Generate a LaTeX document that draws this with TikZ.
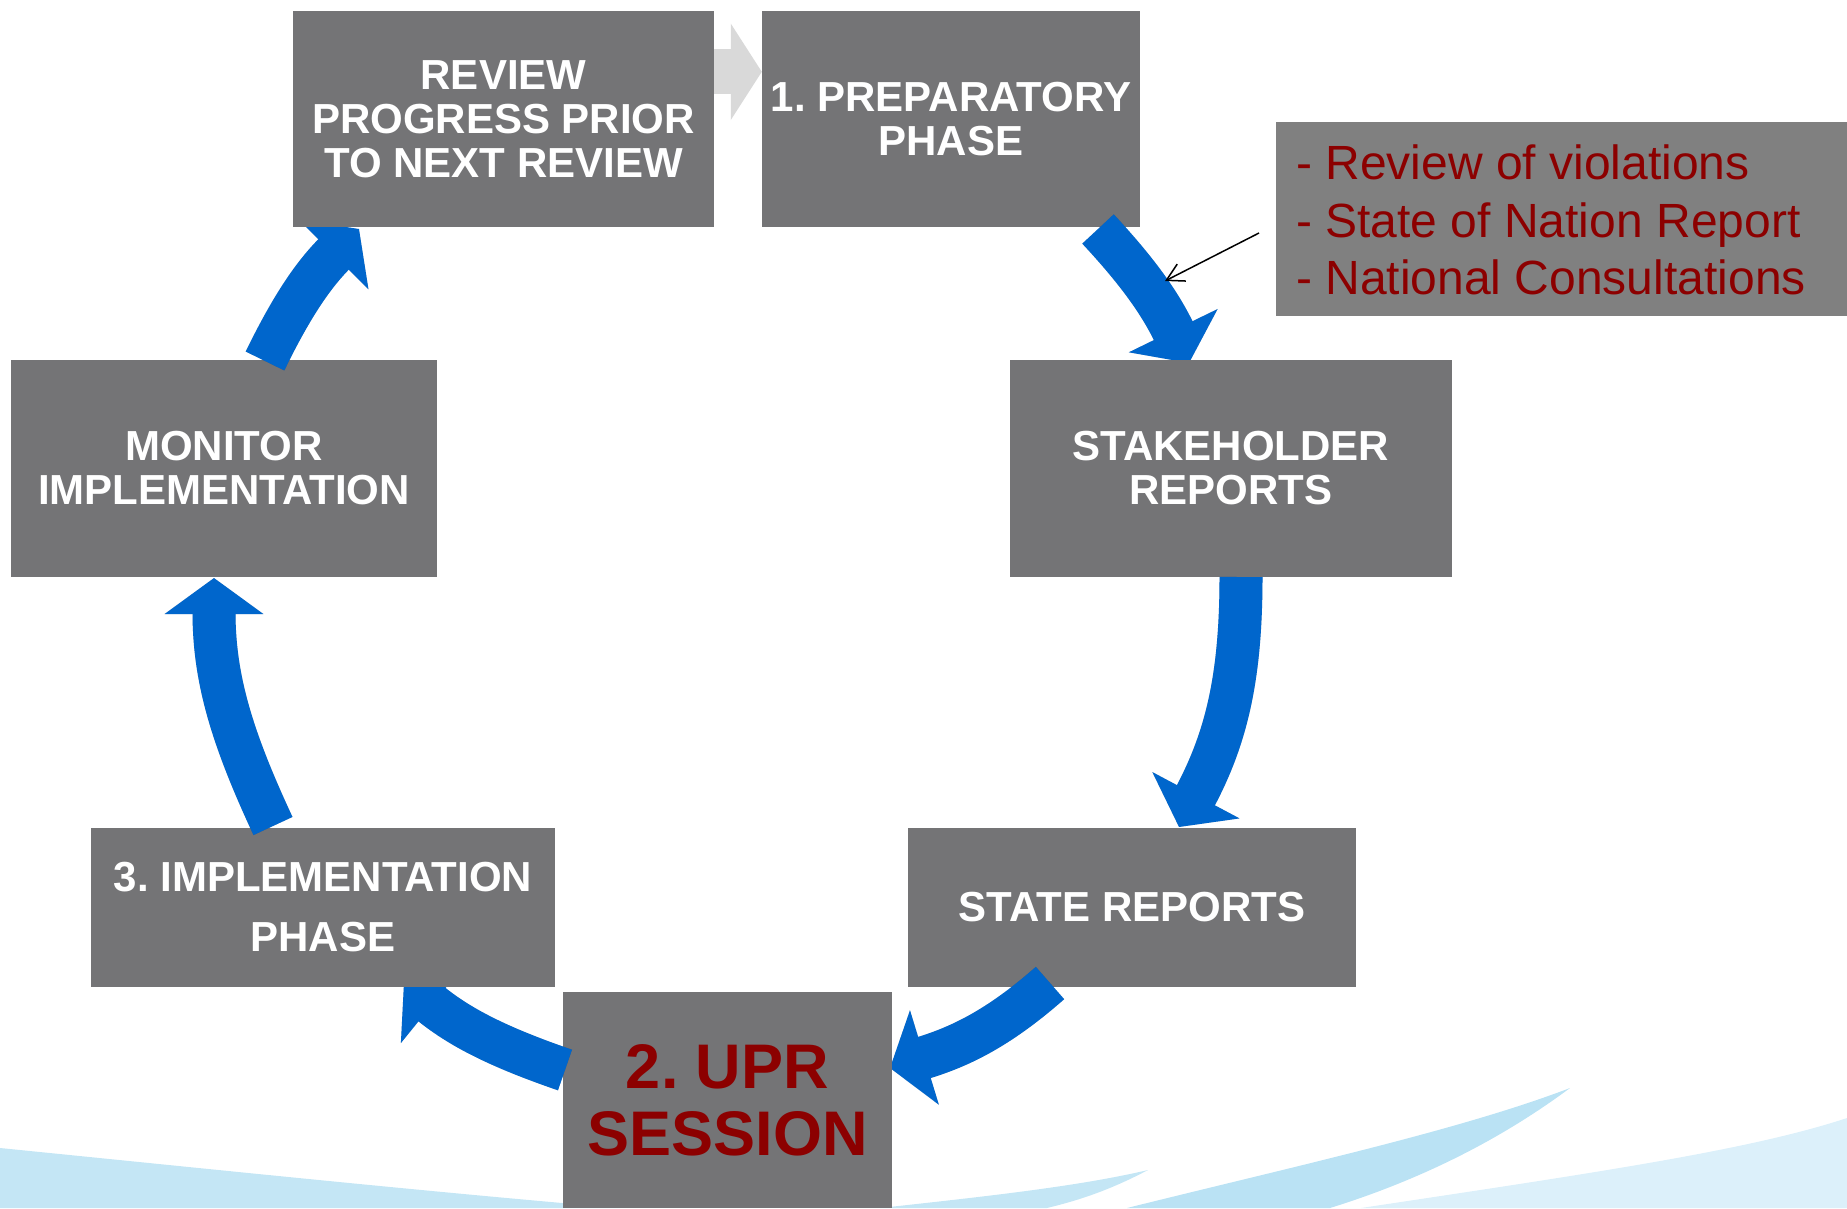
\documentclass[tikz,border=0pt]{standalone}
\usepackage{fontspec}
\setmainfont{Liberation Sans}
\frenchspacing
\usetikzlibrary{arrows.meta,calc}
\definecolor{boxgray}{RGB}{116,116,118}
\definecolor{infogray}{RGB}{128,128,128}
\definecolor{cycleblue}{RGB}{0,102,204}
\definecolor{upred}{RGB}{140,0,0}
\definecolor{chevgray}{RGB}{217,217,217}
\definecolor{waveA}{RGB}{196,230,245}
\definecolor{waveB}{RGB}{186,226,244}
\definecolor{waveC}{RGB}{220,240,250}
\tikzset{
  stagebox/.style={fill=boxgray, inner sep=0pt, text=white, align=center,
    font=\fontsize{42pt}{44pt}\selectfont\bfseries},
  cyclearrow/.style={draw=cycleblue, line width=43pt, line cap=butt,
    -{Triangle[width=97pt,length=36pt]}},
  arrowshadow/.style={draw=black, line width=43pt, line cap=butt,
    -{Triangle[width=97pt,length=36pt]}},
  infotext/.style={anchor=base west, inner sep=0pt, text=upred,
    font=\fontsize{48pt}{58pt}\selectfont},
}
% shadowed cycle arrow: #1 = to-options, #2 start, #3 end
\newcommand{\cyclearrowdraw}[3]{%
  \begin{scope}[transparency group, opacity=0.18]
    \draw[arrowshadow, shift={(3,4)}] (#2) to[#1] (#3);
  \end{scope}
  \draw[cyclearrow] (#2) to[#1] (#3);}
\begin{document}
\begin{tikzpicture}[x=1pt,y=-1pt]
\useasboundingbox (0,0) rectangle (1847,1208);
% background waves
\fill[waveA] (0,1148) .. controls (200,1168) and (430,1192) .. (620,1208) -- (0,1208) -- cycle;
\fill[waveC] (1361,1208) .. controls (1600,1172) and (1750,1150) .. (1847,1118) -- (1847,1208) -- cycle;
\fill[waveA] (880,1208) .. controls (990,1196) and (1080,1186) .. (1148,1170) .. controls (1110,1190) and (1080,1200) .. (1047,1208) -- cycle;
\fill[waveB] (1127,1208) .. controls (1300,1165) and (1460,1130) .. (1570,1088) .. controls (1500,1140) and (1420,1180) .. (1330,1208) -- cycle;

% arrow endpoints
\coordinate (a1s) at (1098,229); \coordinate (a1e) at (1189,363);
\coordinate (a2s) at (1241,577); \coordinate (a2e) at (1179,827);
\coordinate (a3s) at (1050,983); \coordinate (a3e) at (890,1068);
\coordinate (a4s) at (565,1070); \coordinate (a4e) at (404,982);
\coordinate (a5s) at (273,826); \coordinate (a5e) at (214,578);
\coordinate (a6s) at (265,361); \coordinate (a6e) at (359,229);

\node[stagebox, minimum width=378pt, minimum height=216pt] (prep) at (951,119) {1. PREPARATORY\\PHASE};
\cyclearrowdraw{out=-47,in=116}{a1s}{a1e}
\node[stagebox, minimum width=442pt, minimum height=217pt] (stake) at (1231,468.5) {STAKEHOLDER\\REPORTS};
\cyclearrowdraw{out=-90,in=62}{a2s}{a2e}
\node[stagebox, minimum width=448pt, minimum height=159pt] (state) at (1132,907.5) {STATE REPORTS};
\cyclearrowdraw{out=-138.6,in=17}{a3s}{a3e}
\node[stagebox, minimum width=329pt, minimum height=216pt, text=upred,
  font=\fontsize{63pt}{67pt}\selectfont\bfseries] (upr) at (727.5,1100) {2. UPR\\SESSION};
\cyclearrowdraw{out=161,in=-39}{a4s}{a4e}
\node[stagebox, minimum width=464pt, minimum height=159pt,
  font=\fontsize{42pt}{60pt}\selectfont\bfseries] (impl) at (323,907.5) {3. IMPLEMENTATION\\PHASE};
\cyclearrowdraw{out=115,in=-90}{a5s}{a5e}
\node[stagebox, minimum width=426pt, minimum height=217pt] (monitor) at (224,468.5) {MONITOR\\IMPLEMENTATION};
\cyclearrowdraw{out=64,in=225}{a6s}{a6e}
\node[stagebox, minimum width=421pt, minimum height=216pt] (review) at (503.5,119) {REVIEW\\PROGRESS PRIOR\\TO NEXT REVIEW};

% gray chevron arrow between review and prep
\coordinate (g1) at ($(review.north east)+(-6,61)$);
\draw[chevgray, line width=45pt, -{Triangle[width=95pt,length=31pt]}] (review.east |- g1) -- (prep.west |- g1);

% info box
\node[fill=infogray, minimum width=571pt, minimum height=194pt, inner sep=0pt] (info) at (1561.5,219) {};
\node[infotext] (info1) at (1296,179) {- Review of violations};
\node[infotext] (info2) at (1296,237) {- State of Nation Report};
\node[infotext] (info3) at (1296,294) {- National Consultations};
\coordinate (pointer) at (1259,233);
\coordinate (pointee) at (1165,281);
\draw[black, line width=1.5pt, -{Straight Barb[length=17pt,width=19pt]}] (pointer) -- (pointee);
\end{tikzpicture}
\end{document}
